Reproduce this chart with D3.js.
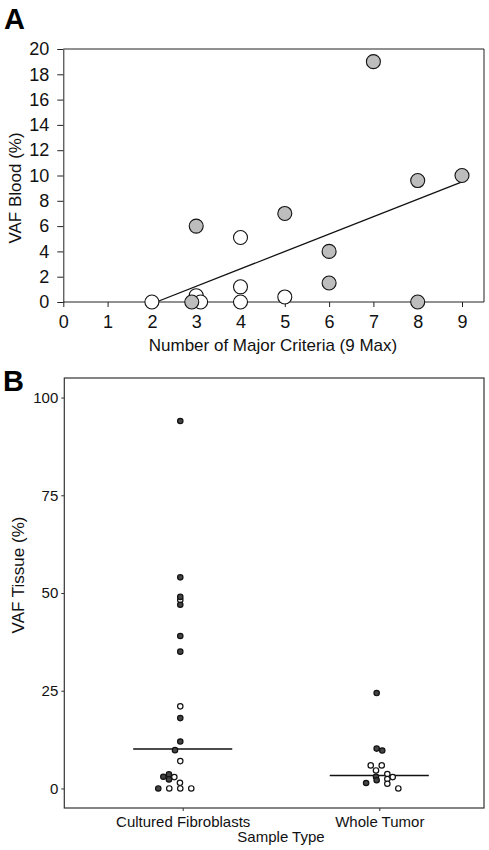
<!DOCTYPE html>
<html>
<head>
<meta charset="utf-8">
<script src="https://cdn.jsdelivr.net/npm/d3@7"></script>
<style>
  html, body { margin: 0; padding: 0; background: #fff; }
  svg { display: block; font-family: "Liberation Sans", Arial, sans-serif; }
</style>
</head>
<body>
<svg id="chart" width="489" height="850"></svg>
<script>
// ---------- Panel A data ----------
const criteriaGray = [3, 2.9, 5, 6, 6, 7, 8, 8, 9];
const vafBloodGray = [6, 0, 7, 4, 1.5, 19, 9.6, 0, 10];
const criteriaWhite = [2, 3, 3.1, 4, 4, 4, 5];
const vafBloodWhite = [0, 0.5, 0, 5.1, 1.2, 0, 0.4];
const trendX = [2.1, 9];
const trendY = [0, 9.5];
const xTicksA = [0, 1, 2, 3, 4, 5, 6, 7, 8, 9];
const yTicksA = [0, 2, 4, 6, 8, 10, 12, 14, 16, 18, 20];

// ---------- Panel B data ----------
const categories = ["Cultured Fibroblasts", "Whole Tumor"];
const fibroDark = [94, 54, 49, 47, 39, 35, 18, 12, 9.8, 3.6, 3.0, 2.3, 0];
const fibroDarkOffset = [-0.22, -0.22, -0.22, -0.22, -0.22, -0.22, -0.22, -0.22, -0.7, -1.25, -1.76, -1.25, -2.22];
const fibroWhite = [48.2, 21, 7, 2.9, 1.45, 0, 0, 0];
const fibroWhiteOffset = [-0.22, -0.22, -0.22, -0.76, -0.25, -1.22, -0.22, 0.78];
const tumorDark = [24.4, 10.2, 9.7, 3.0, 2.1, 1.4];
const tumorDarkOffset = [-0.24, -0.24, 0.27, -0.3, -0.24, -1.2];
const tumorWhite = [5.9, 5.9, 4.6, 3.7, 2.9, 2.4, 1.2, 0];
const tumorWhiteOffset = [-0.78, 0.22, -0.3, 0.73, 1.22, 0.73, 0.73, 1.73];
const medians = [10.1, 3.3];
const yTicksB = [0, 25, 50, 75, 100];

const svg = d3.select("#chart");

// ================= Panel A =================
const A = { left: 63.3, right: 484, top: 49, bottom: 302 };
const xA = d3.scaleLinear().domain([0, 9]).range([A.left, 462]);
const yA = d3.scaleLinear().domain([0, 20]).range([A.bottom, A.top]);
const gA = svg.append("g");

// frame (top & right)
gA.append("path")
  .attr("d", `M${A.left},${A.top}H${A.right}V${A.bottom}`)
  .attr("fill", "none").attr("stroke", "#222").attr("stroke-width", 1);

const axAx = gA.append("g").attr("transform", `translate(0,${A.bottom})`)
  .call(d3.axisBottom(xA).tickValues(xTicksA).tickSize(5).tickPadding(8).tickSizeOuter(0));
axAx.select(".domain").attr("d", `M${A.left},0H${A.right}`);
const ayAx = gA.append("g").attr("transform", `translate(${A.left},0)`)
  .call(d3.axisLeft(yA).tickValues(yTicksA).tickSize(6).tickPadding(8).tickSizeOuter(0));
[axAx, ayAx].forEach(g => {
  g.selectAll("text").attr("font-size", 18).attr("fill", "#111").attr("font-family", "Liberation Sans, Arial, sans-serif");
  g.selectAll("line, .domain").attr("stroke", "#222");
});

gA.append("text").attr("x", 273).attr("y", 351).attr("text-anchor", "middle")
  .attr("font-size", 17).attr("fill", "#111").text("Number of Major Criteria (9 Max)");
gA.append("text").attr("transform", `translate(15,188) rotate(-90)`).attr("text-anchor", "middle")
  .attr("dy", "0.35em").attr("font-size", 17).attr("fill", "#111").text("VAF Blood (%)");
gA.append("text").attr("x", 4).attr("y", 29).attr("font-size", 29).attr("font-weight", "bold")
  .attr("fill", "#000").text("A");

// trend line
gA.append("path")
  .datum(trendX.map((x, i) => [x, trendY[i]]))
  .attr("d", d3.line().x(d => xA(d[0])).y(d => yA(d[1])))
  .attr("fill", "none").attr("stroke", "#111").attr("stroke-width", 1.3);

// points
gA.append("g").selectAll("circle")
  .data(criteriaWhite.map((x, i) => [x, vafBloodWhite[i]]))
  .join("circle").attr("cx", d => xA(d[0])).attr("cy", d => yA(d[1])).attr("r", 7)
  .attr("fill", "#fff").attr("stroke", "#111").attr("stroke-width", 1.1);
gA.append("g").selectAll("circle")
  .data(criteriaGray.map((x, i) => [x, vafBloodGray[i]]))
  .join("circle").attr("cx", d => xA(d[0])).attr("cy", d => yA(d[1])).attr("r", 7)
  .attr("fill", "#bdbdbd").attr("stroke", "#111").attr("stroke-width", 1.1);

// ================= Panel B =================
const B = { left: 64.3, right: 484, top: 378, bottom: 808 };
const xB = d3.scalePoint().domain(categories).range([B.left + 118.4, B.left + 315]);
const yB = d3.scaleLinear().domain([-5, 105]).range([B.bottom, B.top]);
const dotStep = 11;
const gB = svg.append("g");

gB.append("rect").attr("x", B.left).attr("y", B.top)
  .attr("width", B.right - B.left).attr("height", B.bottom - B.top)
  .attr("fill", "none").attr("stroke", "#333").attr("stroke-width", 1.2);

const bxAx = gB.append("g").attr("transform", `translate(0,${B.bottom})`)
  .call(d3.axisBottom(xB).tickSize(3).tickPadding(5).tickSizeOuter(0));
bxAx.select(".domain").remove();
const byAx = gB.append("g").attr("transform", `translate(${B.left},0)`)
  .call(d3.axisLeft(yB).tickValues(yTicksB).tickSize(3).tickPadding(3).tickSizeOuter(0));
byAx.select(".domain").remove();
[bxAx, byAx].forEach(g => {
  g.selectAll("text").attr("font-size", 15).attr("fill", "#111").attr("font-family", "Liberation Sans, Arial, sans-serif");
  g.selectAll("line").attr("stroke", "#333");
});

gB.append("text").attr("x", 281).attr("y", 842).attr("text-anchor", "middle")
  .attr("font-size", 15).attr("fill", "#111").text("Sample Type");
gB.append("text").attr("transform", `translate(18,575) rotate(-90)`).attr("text-anchor", "middle")
  .attr("dy", "0.35em").attr("font-size", 17).attr("fill", "#111").text("VAF Tissue (%)");
gB.append("text").attr("x", 3).attr("y", 391).attr("font-size", 29).attr("font-weight", "bold")
  .attr("fill", "#000").text("B");

// median lines
gB.append("g").selectAll("line")
  .data(categories.map((c, i) => [c, medians[i]]))
  .join("line")
  .attr("x1", d => xB(d[0]) - xB.step() * 0.252).attr("x2", d => xB(d[0]) + xB.step() * 0.252)
  .attr("y1", d => yB(d[1])).attr("y2", d => yB(d[1]))
  .attr("stroke", "#111").attr("stroke-width", 1.4);

function dots(cat, vals, offs, fill) {
  gB.append("g").selectAll("circle")
    .data(vals.map((v, i) => [v, offs[i]]))
    .join("circle")
    .attr("cx", d => xB(cat) + d[1] * dotStep)
    .attr("cy", d => yB(d[0]))
    .attr("r", 2.7)
    .attr("fill", fill).attr("stroke", "#111").attr("stroke-width", 1.2);
}
dots(categories[0], fibroWhite, fibroWhiteOffset, "#fff");
dots(categories[0], fibroDark, fibroDarkOffset, "#444");
dots(categories[1], tumorWhite, tumorWhiteOffset, "#fff");
dots(categories[1], tumorDark, tumorDarkOffset, "#444");
</script>
</body>
</html>
